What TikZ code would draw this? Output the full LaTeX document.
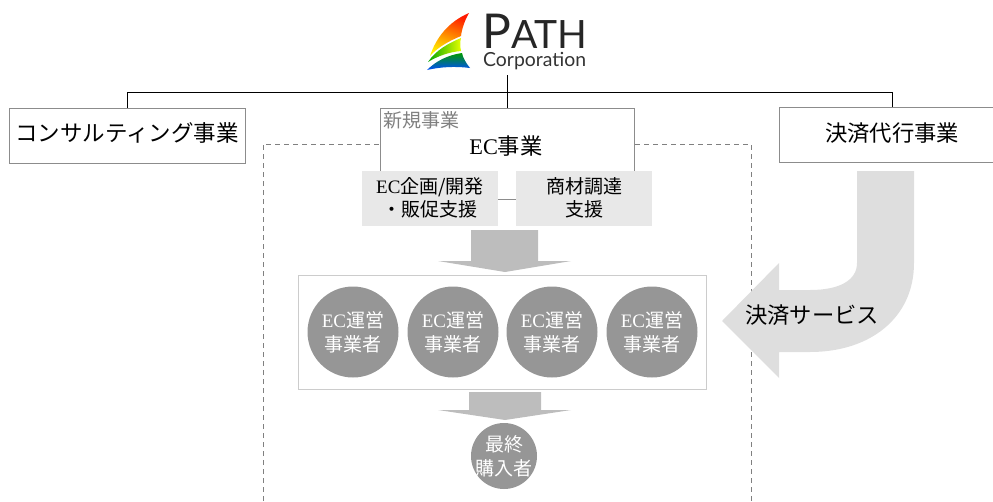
\documentclass[tikz,border=0pt]{standalone}
\usepackage{fontspec}
\setmainfont{Noto Sans CJK JP}[BoldFont={Noto Sans CJK JP}]
\newfontfamily\latinfont{Liberation Serif}
\newfontfamily\logofont{Lato}
\newcommand{\ec}{{\latinfont EC}}
\tikzset{
	bizbox/.style={rectangle,draw=black!45,fill=white,line width=0.9pt,minimum height=55pt,inner sep=0pt,text height=15pt,text depth=3pt,font=\fontsize{22.3}{26}\selectfont},
	supportbox/.style={rectangle,fill=black!9,minimum width=136pt,minimum height=55pt,inner sep=0pt,align=center,font=\fontsize{19}{22.5}\selectfont},
	opcircle/.style={circle,fill=black!41,text=white,minimum size=91pt,inner sep=0pt,align=center,font=\fontsize{19}{24}\selectfont},
	treeline/.style={black,line width=1pt},
	blockarrow/.style={fill=black!26}
}
\begin{document}
\begin{tikzpicture}[x=1pt,y=-1pt]
	\useasboundingbox (0,0) rectangle (993,501);

	\draw[black!50,dashed,line width=0.7pt,dash pattern=on 5pt off 4pt] (263,501) -- (263,144) -- (751,144) -- (751,501);

	\fill[black!13] (857,171) -- (914,171) -- (914,263) .. controls (914,318) and (870,352) .. (810,352) -- (779,352) -- (779,378) -- (722,321) -- (779,263) -- (779,290) -- (810,290) .. controls (840,290) and (857,280) .. (857,263) -- cycle;

	\draw (127,135.5) node[bizbox,minimum width=236pt,font=\fontsize{22.5}{26}\selectfont] (consult) {コンサルティング事業};
	\draw (507,153.5) node[bizbox,minimum width=254pt,minimum height=91pt] (ecbiz) {};
	\draw (892,135) node[bizbox,minimum width=226pt] (payment) {決済代行事業};
	\draw (506,146.5) node[font=\fontsize{22.3}{26}\selectfont] (ectitle) {\ec 事業};
	\draw (421,120.5) node[text=black!50,font=\fontsize{19}{23}\selectfont] (newbiz) {新規事業};

	\draw (430,198) node[supportbox] (planning) {\ec 企画/開発\\・販促支援};
	\draw (584,198) node[supportbox] (sourcing) {商材調達\\支援};

	\draw (507,92) coordinate (branch);
	\draw (507,75) coordinate (logofoot);
	\draw[treeline] (logofoot) -- (ecbiz.north);
	\draw[treeline] (consult.north) |- (branch);
	\draw[treeline] (payment.north) |- (branch);

	\fill[blockarrow] (471,230) -- (538,230) -- (538,261) -- (571,261) -- (505,272) -- (438,261) -- (471,261) -- cycle;

	\draw (502.5,332) node[rectangle,draw=black!20,line width=1pt,minimum width=408pt,minimum height=114pt] (operators) {};
	\foreach \cx/\name in {353/opa,453/opb,552/opc,652/opd}
		\draw (\cx,332) node[opcircle] (\name) {\ec 運営\\事業者};

	\fill[blockarrow] (469,392) -- (541,392) -- (541,410) -- (571,410) -- (505,420) -- (438,410) -- (469,410) -- cycle;

	\draw (504,456) node[opcircle,minimum size=66pt,inner sep=-6pt,font=\fontsize{19}{24}\selectfont] (buyer) {最終\\購入者};

	\draw (812,315) node[font=\fontsize{22.3}{26}\selectfont] (service) {決済サービス};

	\shade[top color=red!80!orange,bottom color=yellow!90!orange,shading angle=-20] (469,13) .. controls (448,22) and (436,38) .. (430,56) .. controls (438,47) and (449,41) .. (461,36) .. controls (462,28) and (465,20) .. (469,13) -- cycle;
	\shade[left color=green!65!black,right color=yellow!90!green] (461,38) .. controls (449,43) and (436,50) .. (428,62) .. controls (438,56) and (449,52) .. (461,51) .. controls (460,46) and (460,42) .. (461,38) -- cycle;
	\shade[top color=green!60!black,bottom color=blue!70!cyan] (462,53) .. controls (448,55) and (436,61) .. (427,70) .. controls (440,67) and (455,66) .. (470,68) .. controls (466,63) and (463,58) .. (462,53) -- cycle;

	\draw (482,48) node[anchor=base west,inner sep=0pt,text=black!85,font=\logofont\fontsize{48}{50}\selectfont] (pathname) {P\fontsize{39}{50}\selectfont ATH};
	\draw (483,66) node[anchor=base west,inner sep=0pt,text=black!80,font=\logofont\fontsize{19.4}{22}\selectfont] (corpname) {Corporation};
\end{tikzpicture}
\end{document}
